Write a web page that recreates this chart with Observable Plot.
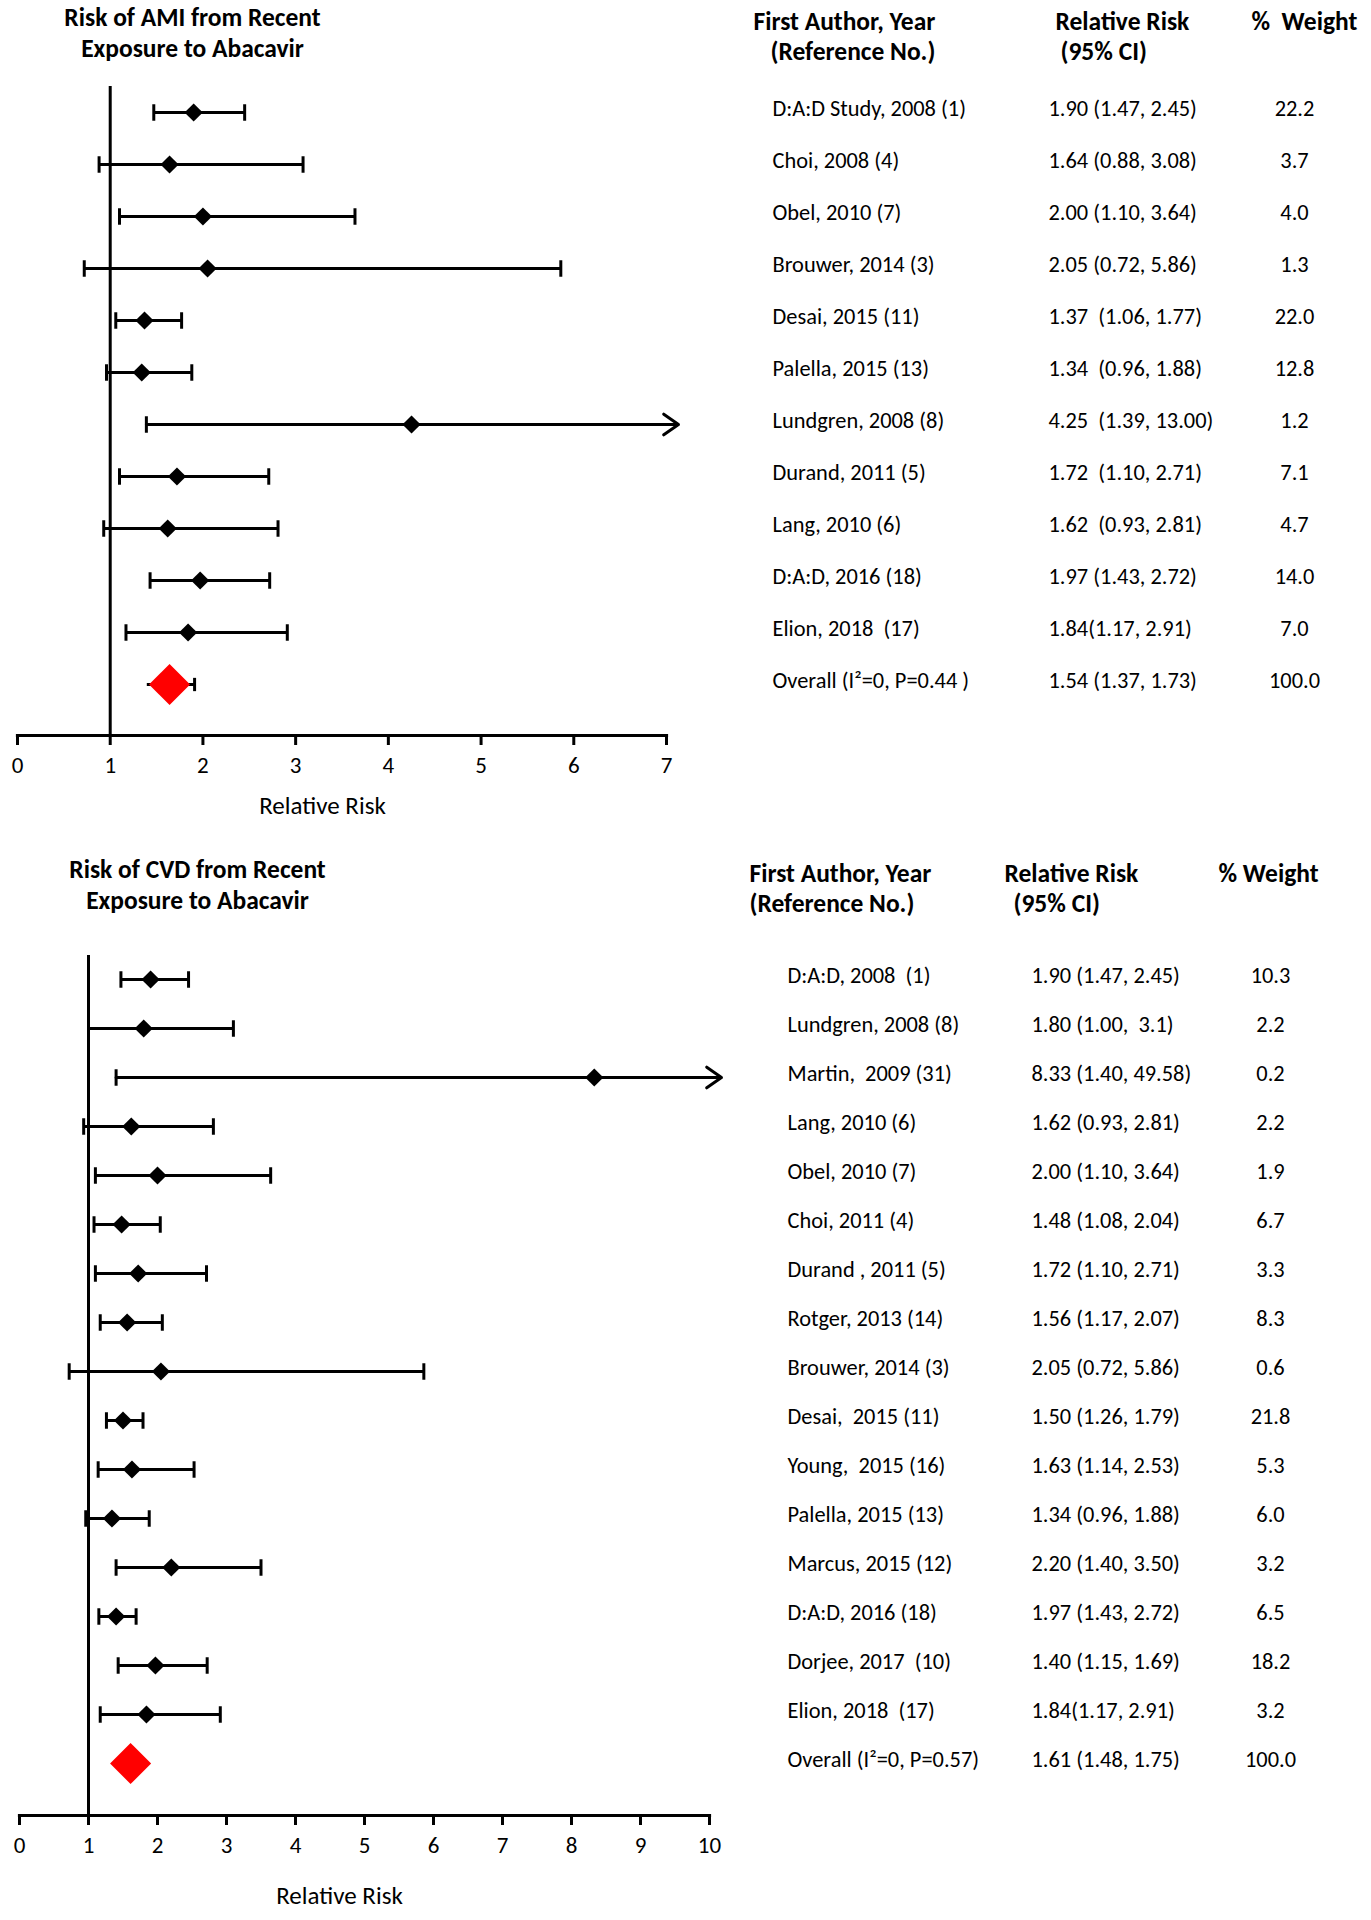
<!DOCTYPE html>
<html><head><meta charset="utf-8">
<script src="https://cdn.jsdelivr.net/npm/d3@7"></script>
<script src="https://cdn.jsdelivr.net/npm/@observablehq/plot@0.6"></script>
<style>
body{margin:0;background:#fff;}
#chart svg{display:block;}
</style></head><body><div id="chart"></div>
<script>
// ---------- AMI panel ----------
const amiAuthors = ["D:A:D Study, 2008 (1)","Choi, 2008 (4)","Obel, 2010 (7)","Brouwer, 2014 (3)","Desai, 2015 (11)","Palella, 2015 (13)","Lundgren, 2008 (8)","Durand, 2011 (5)","Lang, 2010 (6)","D:A:D, 2016 (18)","Elion, 2018  (17)"];
const amiRR = [1.90,1.64,2.00,2.05,1.37,1.34,4.25,1.72,1.62,1.97,1.84];
const amiLo = [1.47,0.88,1.10,0.72,1.06,0.96,1.39,1.10,0.93,1.43,1.17];
const amiHi = [2.45,3.08,3.64,5.86,1.77,1.88,13.00,2.71,2.81,2.72,2.91];
const amiRRText = ["1.90 (1.47, 2.45)","1.64 (0.88, 3.08)","2.00 (1.10, 3.64)","2.05 (0.72, 5.86)","1.37  (1.06, 1.77)","1.34  (0.96, 1.88)","4.25  (1.39, 13.00)","1.72  (1.10, 2.71)","1.62  (0.93, 2.81)","1.97 (1.43, 2.72)","1.84(1.17, 2.91)"];
const amiWeight = ["22.2","3.7","4.0","1.3","22.0","12.8","1.2","7.1","4.7","14.0","7.0"];
const amiOverallLabel = "Overall (I\u00B2=0, P=0.44 )";
const amiOverallText = "1.54 (1.37, 1.73)";
const amiOverallWeight = "100.0";
// overall diamond as drawn in the picture
const amiOverallRR = 1.64, amiOverallLo = 1.40, amiOverallHi = 1.91;
const amiTicks = [0,1,2,3,4,5,6,7];

// ---------- CVD panel ----------
const cvdAuthors = ["D:A:D, 2008  (1)","Lundgren, 2008 (8)","Martin,  2009 (31)","Lang, 2010 (6)","Obel, 2010 (7)","Choi, 2011 (4)","Durand , 2011 (5)","Rotger, 2013 (14)","Brouwer, 2014 (3)","Desai,  2015 (11)","Young,  2015 (16)","Palella, 2015 (13)","Marcus, 2015 (12)","D:A:D, 2016 (18)","Dorjee, 2017  (10)","Elion, 2018  (17)"];
const cvdRR = [1.90,1.80,8.33,1.62,2.00,1.48,1.72,1.56,2.05,1.50,1.63,1.34,2.20,1.40,1.97,1.84];
const cvdLo = [1.47,1.00,1.40,0.93,1.10,1.08,1.10,1.17,0.72,1.26,1.14,0.96,1.40,1.15,1.43,1.17];
const cvdHi = [2.45,3.10,49.58,2.81,3.64,2.04,2.71,2.07,5.86,1.79,2.53,1.88,3.50,1.69,2.72,2.91];
const cvdRRText = ["1.90 (1.47, 2.45)","1.80 (1.00,  3.1)","8.33 (1.40, 49.58)","1.62 (0.93, 2.81)","2.00 (1.10, 3.64)","1.48 (1.08, 2.04)","1.72 (1.10, 2.71)","1.56 (1.17, 2.07)","2.05 (0.72, 5.86)","1.50 (1.26, 1.79)","1.63 (1.14, 2.53)","1.34 (0.96, 1.88)","2.20 (1.40, 3.50)","1.97 (1.43, 2.72)","1.40 (1.15, 1.69)","1.84(1.17, 2.91)"];
const cvdWeight = ["10.3","2.2","0.2","2.2","1.9","6.7","3.3","8.3","0.6","21.8","5.3","6.0","3.2","6.5","18.2","3.2"];
const cvdOverallLabel = "Overall (I\u00B2=0, P=0.57)";
const cvdOverallText = "1.61 (1.48, 1.75)";
const cvdOverallWeight = "100.0";
const cvdOverallRR = 1.61, cvdOverallLo = 1.48, cvdOverallHi = 1.75;
const cvdTicks = [0,1,2,3,4,5,6,7,8,9,10];

const FONT = "Carlito, Lato, 'Open Sans', sans-serif";
const SW = 3;

// vertical bar symbol used for the CI end caps
const capSymbol = {draw(ctx, size) { const h = Math.sqrt(size); ctx.moveTo(0, -h / 2); ctx.lineTo(0, h / 2); }};

function panel(o) {
  const rows = o.authors.map((a, i) => ({label: a, rr: o.rr[i], lo: o.lo[i], hi: o.hi[i], rrText: o.rrText[i], weight: o.weight[i]}));
  const ov = {label: o.ovLabel, rr: o.ovRR, lo: o.ovLo, hi: o.ovHi, rrText: o.ovText, weight: o.ovWeight};
  const all = [...rows, ov];
  const xmax = d3.max(o.ticks), xmin = d3.min(o.ticks);
  const within = rows.filter(d => d.hi <= xmax);
  const beyond = rows.filter(d => d.hi > xmax);
  const L = o.ml, T = o.mt;
  const at = (str, x, y, opts = {}) => Plot.text([str], {text: d => d, frameAnchor: "top-left", lineAnchor: "middle", dx: x - L, dy: y - T, fill: "#000", ...opts});
  const col = (field, x, opts = {}) => Plot.text(all, {y: "label", text: field, frameAnchor: "left", lineAnchor: "middle", dx: x - L, dy: -4, fill: "#000", fontSize: 22.4, textAnchor: "start", ...opts});
  const cap = (data, field, r = 9.3) => Plot.dot(data, {y: "label", x: field, symbol: capSymbol, r, fill: "none", stroke: "#000", strokeWidth: SW});
  const bold = {fontSize: 25.5, fontWeight: "bold", textAnchor: "start"};
  return Plot.plot({
    width: 1371, height: o.height,
    marginTop: T, marginBottom: o.mb, marginLeft: L, marginRight: o.mr,
    style: {fontFamily: FONT, background: "#fff", color: "#000", overflow: "visible"},
    x: {domain: [xmin, xmax]},
    y: {type: "point", domain: all.map(d => d.label), padding: 0, insetTop: o.it, insetBottom: o.ib, axis: null},
    marks: [
      Plot.axisX({ticks: o.ticks, tickSize: 10, tickPadding: 11, fontSize: 23, strokeWidth: SW, label: null, tickFormat: d => String(d)}),
      Plot.frame({anchor: "bottom", strokeWidth: 3.2}),
      Plot.ruleX([1], {strokeWidth: SW}),
      Plot.ruleY(within, {y: "label", x1: "lo", x2: "hi", strokeWidth: SW}),
      cap(within, "lo"),
      cap(within, "hi"),
      Plot.arrow(beyond, {x1: "lo", x2: () => xmax, y1: "label", y2: "label", insetEnd: -12, headLength: 9, headAngle: 70, strokeWidth: SW}),
      cap(beyond, "lo"),
      Plot.dot(rows, {y: "label", x: "rr", symbol: "diamond2", r: 8.2, fill: "#000", stroke: "none"}),
      Plot.ruleY([ov], {y: "label", x1: "lo", x2: "hi", strokeWidth: SW}),
      cap([ov], "hi", 7.5),
      Plot.dot([ov], {y: "label", x: "rr", symbol: "diamond2", r: 18.5, fill: "#ff0000", stroke: "none"}),
      col("label", o.colAuthor),
      col("rrText", o.colRR),
      col("weight", o.colWeight, {textAnchor: "middle"}),
      at(o.title1, o.titleX, o.titleY1, {...bold, textAnchor: "middle"}),
      at(o.title2, o.titleX, o.titleY2, {...bold, textAnchor: "middle"}),
      at("First Author, Year", o.h1x, o.hy1, bold),
      at("(Reference No.)", o.h1bx, o.hy2, bold),
      at("Relative Risk", o.h2x, o.hy1, bold),
      at("(95% CI)", o.h2bx, o.hy2, bold),
      at(o.weightHead, o.h3x, o.hy1, bold),
      at("Relative Risk", o.xlabX, o.xlabY, {fontSize: 25, textAnchor: "middle"})
    ]
  });
}

const amiChart = panel({
  authors: amiAuthors, rr: amiRR, lo: amiLo, hi: amiHi, rrText: amiRRText, weight: amiWeight,
  ovLabel: amiOverallLabel, ovRR: amiOverallRR, ovLo: amiOverallLo, ovHi: amiOverallHi, ovText: amiOverallText, ovWeight: amiOverallWeight,
  ticks: amiTicks,
  height: 840, mt: 86, mb: 105, ml: 17, mr: 705, it: 23, ib: 48,
  colAuthor: 772, colRR: 1048, colWeight: 1294,
  title1: "Risk of AMI from Recent", title2: "Exposure to Abacavir", titleX: 192, titleY1: 17, titleY2: 48,
  h1x: 753, h1bx: 770, h2x: 1055, h2bx: 1060, h3x: 1251, hy1: 21, hy2: 51, weightHead: "%  Weight",
  xlabX: 322, xlabY: 805
});

const cvdChart = panel({
  authors: cvdAuthors, rr: cvdRR, lo: cvdLo, hi: cvdHi, rrText: cvdRRText, weight: cvdWeight,
  ovLabel: cvdOverallLabel, ovRR: cvdOverallRR, ovLo: cvdOverallLo, ovHi: cvdOverallHi, ovText: cvdOverallText, ovWeight: cvdOverallWeight,
  ticks: cvdTicks,
  height: 1080, mt: 115, mb: 105, ml: 19, mr: 662, it: 24, ib: 52,
  colAuthor: 787, colRR: 1031, colWeight: 1270,
  title1: "Risk of CVD from Recent", title2: "Exposure to Abacavir", titleX: 197, titleY1: 29, titleY2: 60,
  h1x: 749, h1bx: 749, h2x: 1004, h2bx: 1013, h3x: 1218, hy1: 33, hy2: 63, weightHead: "% Weight",
  xlabX: 339, xlabY: 1055
});

document.getElementById("chart").append(amiChart, cvdChart);
</script>
</body></html>
